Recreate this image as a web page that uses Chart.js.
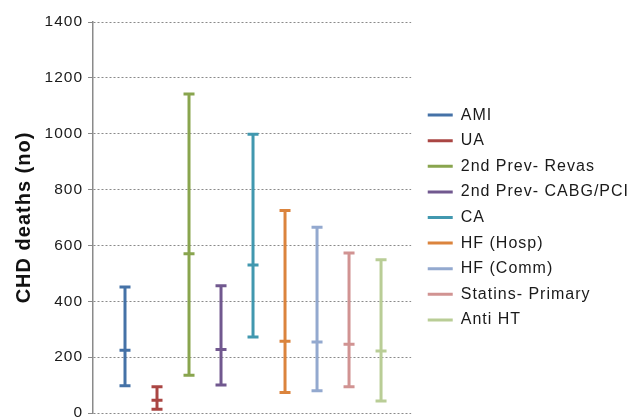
<!DOCTYPE html>
<html>
<head>
<meta charset="utf-8">
<script src="https://cdn.jsdelivr.net/npm/chart.js@4/dist/chart.umd.min.js"></script>
<style>
  html, body { margin: 0; padding: 0; background: #fff; overflow: hidden; }
  #wrap { width: 638px; height: 430px; }
</style>
</head>
<body>
<div id="wrap"><canvas id="myChart"></canvas></div>
<script>
"use strict";

// groups shown in the legend, left to right
const categories = [
  "AMI",
  "UA",
  "2nd Prev- Revas",
  "2nd Prev- CABG/PCI",
  "CA",
  "HF (Hosp)",
  "HF (Comm)",
  "Statins- Primary",
  "Anti HT"
];
// estimated deaths: low / best estimate / high
const lowValues = [98, 13, 135, 100, 272, 73, 80, 94, 43];
const midValues = [225, 46, 570, 227, 530, 257, 254, 246, 222];
const highValues = [451, 94, 1142, 456, 998, 725, 665, 573, 549];
const yTicks = [0, 200, 400, 600, 800, 1000, 1200, 1400];

const colors = [
  "#4572A7", "#AA4643", "#89A54E", "#71588F", "#4198AF",
  "#DB843D", "#93A9CF", "#D19392", "#B9CD96"
];

const fontFamily = "'Liberation Sans', Arial, Helvetica, sans-serif";

const datasets = [];
for (let i = 0; i < categories.length; i++) {
  datasets.push({
    label: categories[i],
    data: [
      { x: i + 1, y: lowValues[i] },
      { x: i + 1, y: midValues[i] },
      { x: i + 1, y: highValues[i] }
    ],
    borderColor: colors[i],
    backgroundColor: colors[i],
    borderWidth: 3,
    pointStyle: "line",
    pointRadius: 5.5,
    pointHoverRadius: 5.5,
    pointBorderWidth: 3,
    pointBorderColor: colors[i],
    fill: false
  });
}

// wider text like the original picture
const spacing = {
  id: "spacing",
  beforeUpdate(chart) { chart.ctx.letterSpacing = "1px"; },
  beforeDraw(chart) { chart.ctx.letterSpacing = "1px"; },
  afterLayout(chart) {
    // nudge legend a bit to the right
    chart.legend.left += 7;
    chart.legend.right += 7;
  }
};

const config = {
  type: "line",
  data: { datasets: datasets },
  options: {
    responsive: true,
    maintainAspectRatio: false,
    animation: false,
    layout: { padding: { top: 22, bottom: 17, left: 0, right: 6 } },
    plugins: {
      tooltip: { enabled: false },
      legend: {
        position: "right",
        maxWidth: 240,
        labels: {
          boxWidth: 25,
          boxHeight: 3,
          padding: 9.6,
          color: "#1a1a1a",
          font: { family: fontFamily, size: 16 },
          generateLabels(chart) {
            const items = Chart.defaults.plugins.legend.labels.generateLabels(chart);
            return items.map(item => ({ ...item, lineWidth: 0 }));
          }
        }
      }
    },
    scales: {
      x: {
        type: "linear",
        display: false,
        min: 0,
        max: 9.94
      },
      y: {
        min: 0,
        max: 1400,
        afterBuildTicks(scale) {
          scale.ticks = yTicks.map(v => ({ value: v }));
        },
        afterFit(scale) { scale.width = 93; },
        ticks: {
          color: "#1a1a1a",
          padding: 5,
          font: { family: fontFamily, size: 15.5 },
          callback: value => String(value)
        },
        grid: {
          color: "#8a8a8a",
          lineWidth: 1,
          tickLength: 5,
          tickColor: "#8a8a8a",
          tickBorderDash: []
        },
        border: {
          display: true,
          color: "#8a8a8a",
          width: 1.5,
          dash: [2, 2]
        },
        title: {
          display: true,
          text: "CHD deaths (no)",
          color: "#111",
          padding: { top: 12.5, bottom: 0 },
          font: { family: fontFamily, size: 20, weight: "bold" }
        }
      }
    }
  },
  plugins: [spacing]
};

const myChart = new Chart(document.getElementById("myChart"), config);
</script>
</body>
</html>
